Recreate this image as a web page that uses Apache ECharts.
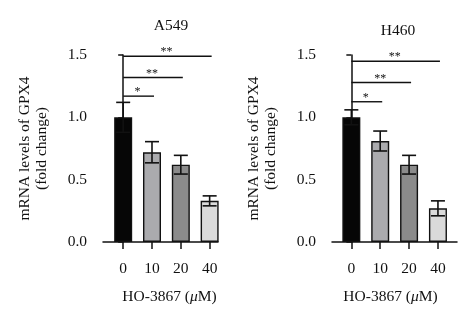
<!DOCTYPE html>
<html><head><meta charset="utf-8">
<script src="https://cdn.jsdelivr.net/npm/echarts@6/dist/echarts.min.js"></script>
<style>html,body{margin:0;padding:0;background:#fff}#c{width:474px;height:327px}</style>
</head><body><div id="c"></div>
<script>
const categories = ['0', '10', '20', '40'];
const yTickValues = [0, 0.5, 1.0, 1.5];
const yTickLabels = ['0.0', '0.5', '1.0', '1.5'];
const panelTitles = ['A549', 'H460'];
const yAxisTitle = 'mRNA levels of GPX4\n(fold change)';
const xAxisTitle = 'HO-3867 ({i|μ}M)';
const a549Mean = [1.0, 0.72, 0.62, 0.33];
const a549Err = [0.12, 0.085, 0.075, 0.04];
const h460Mean = [1.0, 0.81, 0.62, 0.27];
const h460Err = [0.06, 0.08, 0.075, 0.06];
// [from category, to category, bracket height, label]
const a549Sig = [[0, 1, 1.17, '*'], [0, 2, 1.32, '**'], [0, 3, 1.49, '**']];
const h460Sig = [[0, 1, 1.125, '*'], [0, 2, 1.28, '**'], [0, 3, 1.45, '**']];
const barColors = ['#060606', '#ababae', '#8b8b8b', '#dadada'];

const FONT = 'Liberation Serif';
const INK = '#111';
const chart = echarts.init(document.getElementById('c'));

const panels = [
  {mean: a549Mean, err: a549Err, sig: a549Sig, grid: {left: 103, top: 55, width: 115, height: 187}, min: -0.70, max: 3.29, namePad: [0, 0, 0, 18]},
  {mean: h460Mean, err: h460Err, sig: h460Sig, grid: {left: 332, top: 55, width: 125, height: 187}, min: -0.67, max: 3.66, namePad: [0, 8, 0, 0]}
];

const grid = [], xAxis = [], yAxis = [], series = [];
panels.forEach((p, k) => {
  grid.push(p.grid);
  xAxis.push({
    type: 'value', gridIndex: k, min: p.min, max: p.max,
    splitLine: {show: false},
    axisLine: {lineStyle: {color: INK, width: 1.5}},
    axisTick: {customValues: [0, 1, 2, 3], length: 7, lineStyle: {color: INK, width: 1.5}},
    axisLabel: {customValues: [0, 1, 2, 3], formatter: v => categories[Math.round(v)], margin: 19,
      color: INK, fontFamily: FONT, fontSize: 15.5},
    name: xAxisTitle, nameLocation: 'middle', nameGap: 47,
    nameTextStyle: {color: INK, fontFamily: FONT, fontSize: 15.5, padding: p.namePad,
      rich: {i: {fontFamily: FONT, fontSize: 15.5, fontStyle: 'italic', color: INK}}}
  });
  yAxis.push({
    type: 'value', gridIndex: k, min: 0, max: 1.5, interval: 0.5,
    splitLine: {show: false},
    axisLine: {show: true, lineStyle: {color: INK, width: 1.5}},
    axisTick: {show: true, length: 5, lineStyle: {color: INK, width: 1.5}},
    axisLabel: {formatter: v => yTickLabels[yTickValues.indexOf(v)], margin: 16, color: INK, fontFamily: FONT, fontSize: 15.5},
    name: yAxisTitle, nameLocation: 'middle', nameGap: 53,
    nameTextStyle: {color: INK, fontFamily: FONT, fontSize: 15.5, lineHeight: 17}
  });
  series.push({
    type: 'bar', xAxisIndex: k, yAxisIndex: k, barWidth: 18,
    data: p.mean.map((v, i) => ({value: [i, v], itemStyle: {color: barColors[i]}})),
    itemStyle: {borderColor: INK, borderWidth: 1.4}
  });
  series.push({
    type: 'custom', xAxisIndex: k, yAxisIndex: k, z: 5,
    data: p.mean.map((v, i) => [i, v, p.err[i]]),
    renderItem: (params, api) => {
      const i = api.value(0), m = api.value(1), e = api.value(2);
      const t = api.coord([i, m + e]), b = api.coord([i, m - e]);
      const hw = 7, st = {stroke: INK, lineWidth: 1.6};
      return {type: 'group', children: [
        {type: 'line', shape: {x1: t[0], y1: t[1], x2: b[0], y2: b[1]}, style: st},
        {type: 'line', shape: {x1: t[0] - hw, y1: t[1], x2: t[0] + hw, y2: t[1]}, style: st},
        {type: 'line', shape: {x1: b[0] - hw, y1: b[1], x2: b[0] + hw, y2: b[1]}, style: st}
      ]};
    }
  });
  series.push({
    type: 'custom', xAxisIndex: k, yAxisIndex: k, z: 6,
    data: p.sig.map(s => [s[0], s[1], s[2]]),
    renderItem: (params, api) => {
      const s = p.sig[params.dataIndex];
      const a = api.coord([s[0], s[2]]), b = api.coord([s[1], s[2]]);
      return {type: 'group', children: [
        {type: 'line', shape: {x1: a[0], y1: a[1], x2: b[0] + 2, y2: b[1]}, style: {stroke: INK, lineWidth: 1.4}},
        {type: 'text', x: (a[0] + b[0]) / 2, y: a[1] + 2,
          style: {text: s[3], fill: INK, font: '12px ' + FONT, textAlign: 'center', textVerticalAlign: 'bottom'}}
      ]};
    }
  });
});

chart.setOption({
  animation: false,
  backgroundColor: '#fff',
  title: [
    {text: panelTitles[0], left: 166, top: 13, textAlign: 'center', textStyle: {color: INK, fontFamily: FONT, fontSize: 15.5, fontWeight: 'normal'}},
    {text: panelTitles[1], left: 393, top: 18, textAlign: 'center', textStyle: {color: INK, fontFamily: FONT, fontSize: 15.5, fontWeight: 'normal'}}
  ],
  grid, xAxis, yAxis, series
});
</script></body></html>
